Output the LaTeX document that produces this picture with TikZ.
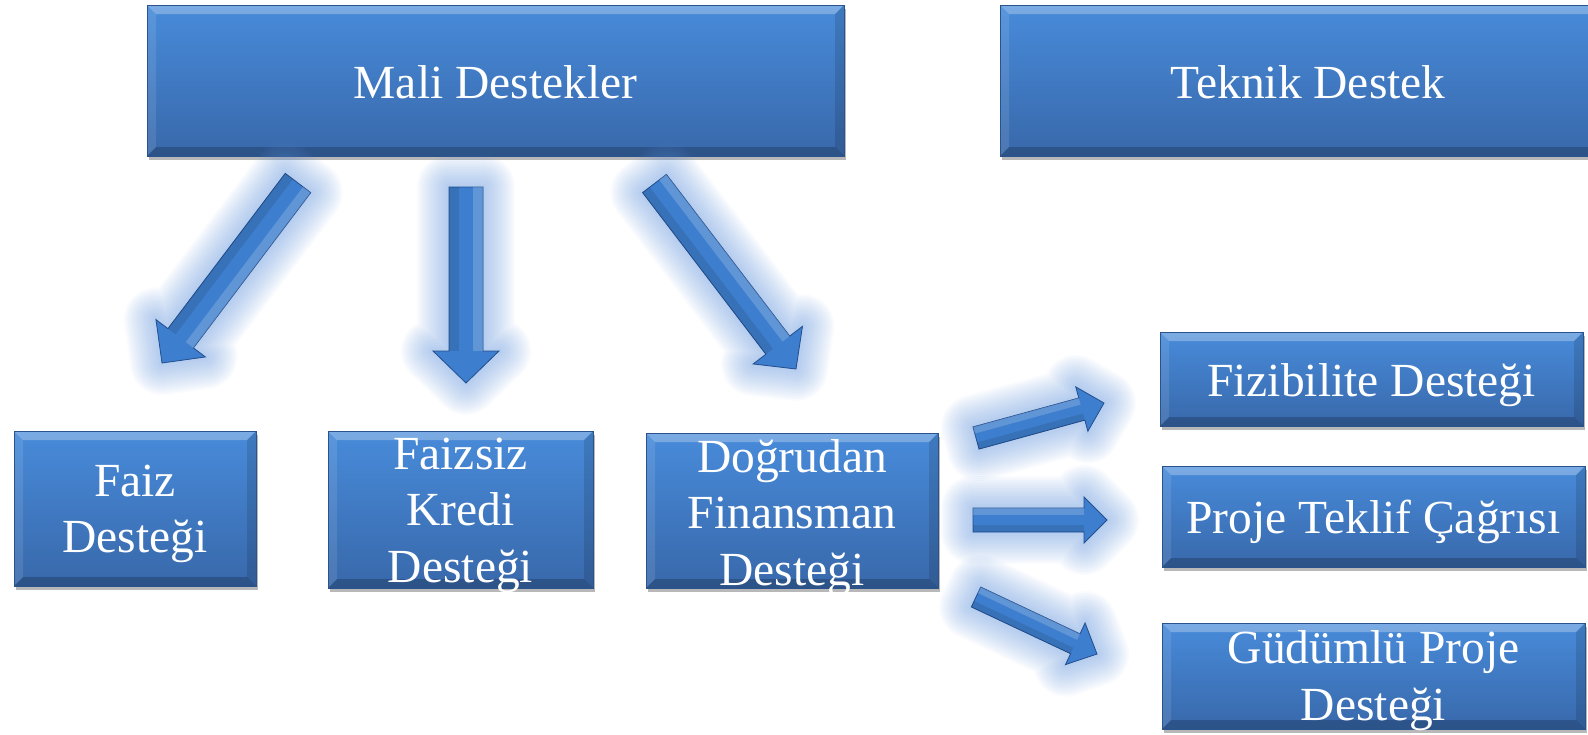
\documentclass[tikz,border=0pt]{standalone}
\usepackage{fontspec}
\setmainfont{Liberation Serif}
\usetikzlibrary{calc,shadows}
\definecolor{boxtop}{RGB}{72,139,218}
\definecolor{boxbot}{RGB}{56,104,170}
\definecolor{boxedge}{RGB}{42,82,140}
\definecolor{arrowc}{RGB}{62,126,206}
\definecolor{arrowedge}{RGB}{36,78,142}
\definecolor{glowc}{RGB}{100,150,220}
\tikzset{
  box/.style={rectangle, inner sep=0pt, outer sep=0pt, draw=boxedge, line width=0.8pt,
    top color=boxtop, bottom color=boxbot,
    drop shadow={shadow xshift=1.5pt, shadow yshift=-4pt, fill=black, opacity=0.28},
    path picture={
      \def\b{9}
      \coordinate (pnw) at (path picture bounding box.north west);
      \coordinate (pne) at (path picture bounding box.north east);
      \coordinate (psw) at (path picture bounding box.south west);
      \coordinate (pse) at (path picture bounding box.south east);
      \fill[white, opacity=0.28] (pnw) -- (pne) -- ($(pne)+(-\b,\b)$) -- ($(pnw)+(\b,\b)$) -- cycle;
      \fill[white, opacity=0.10] (pnw) -- ($(pnw)+(\b,\b)$) -- ($(psw)+(\b,-\b)$) -- (psw) -- cycle;
      \fill[black, opacity=0.20] (psw) -- (pse) -- ($(pse)+(-\b,-\b)$) -- ($(psw)+(\b,-\b)$) -- cycle;
      \fill[black, opacity=0.12] (pne) -- (pse) -- ($(pse)+(-\b,-\b)$) -- ($(pne)+(-\b,\b)$) -- cycle;
    }},
  lbl/.style={text=white, align=center, inner sep=0pt, font=\fontsize{47.5}{56.5}\selectfont},
  arrowbody/.style={fill=arrowc, draw=arrowedge, line width=0.8pt, line join=miter},
  glowlayer/.style={draw=glowc, fill=glowc, line join=round},
}
\newcommand\glowarrow[5]{%
  \coordinate (gaN) at ($(#2)!#5!(#1)$);
  \def\gapath{($(#1)!#3!90:(#2)$) -- ($(gaN)!#3!90:(#2)$) -- ($(gaN)!#4!90:(#2)$) -- (#2) -- ($(gaN)!#4!-90:(#2)$) -- ($(gaN)!#3!-90:(#2)$) -- ($(#1)!#3!-90:(#2)$) -- cycle}%
  \foreach \lw in {64,60,...,4}{%
    \path[glowlayer, line width=\lw pt, opacity=0.04] \gapath;}
  \path[arrowbody] \gapath;
  \path[fill=white, opacity=0.18] ($(#1)!#3!90:(#2)$) -- ($(gaN)!#3!90:(#2)$) -- ($(gaN)!{#3*0.4}!90:(#2)$) -- ($(#1)!{#3*0.4}!90:(#2)$) -- cycle;
  \path[fill=black, opacity=0.10] ($(#1)!#3!-90:(#2)$) -- ($(gaN)!#3!-90:(#2)$) -- ($(gaN)!{#3*0.4}!-90:(#2)$) -- ($(#1)!{#3*0.4}!-90:(#2)$) -- cycle;
}
\begin{document}
\begin{tikzpicture}[x=1pt, y=-1pt]
\useasboundingbox (0,0) rectangle (1588,734);
% boxes
\node[box, minimum width=697pt, minimum height=151pt] (mali) at (495.5,80.5) {};
\node[box, minimum width=616pt, minimum height=151pt] (teknik) at (1308,80.5) {};
\node[box, minimum width=242pt, minimum height=155pt] (faiz) at (135,508.5) {};
\node[box, minimum width=265pt, minimum height=157pt] (faizsiz) at (460.5,509.5) {};
\node[box, minimum width=292pt, minimum height=155pt] (dogrudan) at (792,510.5) {};
\node[box, minimum width=423pt, minimum height=94pt] (fiz) at (1371.5,379) {};
\node[box, minimum width=423pt, minimum height=101pt] (proje) at (1373.5,516.5) {};
\node[box, minimum width=423pt, minimum height=106pt] (gud) at (1373.5,676) {};
% labels
\node[lbl] (tmali) at ([yshift=-1.5pt]mali.center) {Mali Destekler};
\node[lbl] (tteknik) at ([yshift=-1.5pt]teknik.center) {Teknik Destek};
\node[lbl] (tfaiz) at ([yshift=-5.5pt]faiz.center) {Faiz\\Desteği};
\node[lbl] (tfaizsiz) at ([yshift=-5.5pt]faizsiz.center) {Faizsiz\\Kredi\\Desteği};
\node[lbl] (tdogrudan) at ([yshift=-7pt]dogrudan.center) {Doğrudan\\Finansman\\Desteği};
\node[lbl] (tfiz) at ([yshift=-6pt]fiz.center) {Fizibilite Desteği};
\node[lbl] (tproje) at ([yshift=-5.5pt]proje.center) {Proje Teklif Çağrısı};
\node[lbl] (tgud) at ([yshift=-4.5pt]gud.center) {Güdümlü Proje\\Desteği};
% arrow end points
\coordinate (a1s) at (298,183);   \coordinate (a1e) at (162,363);
\coordinate (a2s) at (466,187);   \coordinate (a2e) at (466,383);
\coordinate (a3s) at (654.5,183.5); \coordinate (a3e) at (796,369);
\coordinate (a4s) at (976,438);   \coordinate (a4e) at (1104,403);
\coordinate (a5s) at (973,520);   \coordinate (a5e) at (1107,520);
\coordinate (a6s) at (976,597);   \coordinate (a6e) at (1097,654);
\glowarrow{a1s}{a1e}{16pt}{31pt}{31pt}
\glowarrow{a2s}{a2e}{17pt}{33pt}{32pt}
\glowarrow{a3s}{a3e}{15pt}{31pt}{30pt}
\glowarrow{a4s}{a4e}{11.5pt}{23pt}{23pt}
\glowarrow{a5s}{a5e}{12pt}{23pt}{23pt}
\glowarrow{a6s}{a6e}{11pt}{23pt}{24pt}
\end{tikzpicture}
\end{document}
